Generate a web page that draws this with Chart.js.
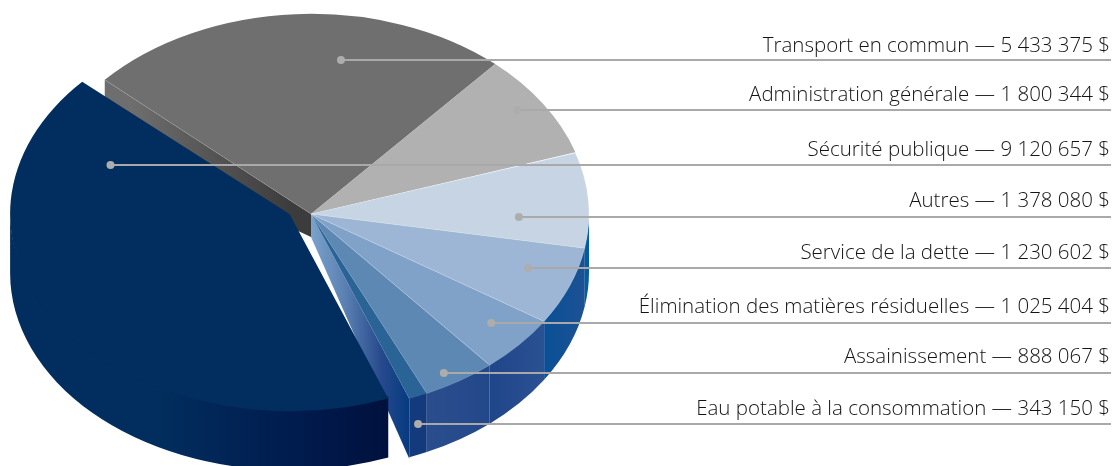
<!DOCTYPE html>
<html lang="fr">
<head>
<meta charset="utf-8">
<title>Répartition des dépenses</title>
<script src="https://cdn.jsdelivr.net/npm/chart.js@4/dist/chart.umd.min.js"></script>
<style>
  html, body { margin: 0; padding: 0; background: #fff; overflow: hidden; }
  canvas { display: block; }
</style>
</head>
<body>
<canvas id="pie" width="1112" height="466"></canvas>
<script>
// Clockwise from the top-left cut. The drawn slices are not to scale with the
// printed amounts, so sweep is read off the picture (degrees) and amounts off the labels.
const categories = ['Transport en commun', 'Administration générale', 'Autres', 'Service de la dette',
  'Élimination des matières résiduelles', 'Assainissement', 'Eau potable à la consommation', 'Sécurité publique'];
const amounts = [5433375, 1800344, 1378080, 1230602, 1025404, 888067, 343150, 9120657];
const sweep = [89.4, 30.5, 28, 23, 17, 15.4, 3.9, 152.8];

const topColors = ['#6f6f6f', '#b1b1b1', '#c6d4e3', '#9db6d5', '#80a2c8', '#5d88b4', '#2a6496', '#012e5e'];
const rimColors = [null, null, ['#005da4', '#005da4'], ['#1c5294', '#0a4f96'], ['#2a5192', '#20468a'],
  ['#23488a', '#2a4d8d'], ['#143a7e', '#143a7e'], null];

// Leader anchors, relative to each slice: along the sweep, along the radius, drop on the rim
const leaderAlong = [0.625, 0.443, 0.685, 0.39, 0.41, 0.58, 0.5, 0.861];
const leaderReach = [0.777, 0.905, 0.748, 0.826, 0.846, 0.926, 1, 0.689];
const leaderDrop = [0, 0, 0, 0, 0, 0, 25, 0];
const labelLift = [8, 9, 10, 9, 10, 10, 9, 9];

const SQUASH = 0.72;
const FRONT_SQUASH = 0.71; // the front right is slightly flatter than the back
const DEPTH = 60;       // rim height
const FRONT_DROP = 58, FRONT_LOWER_SQUASH = 0.712; // lower edge of the front right rim
const TIP_DEPTH = 23;   // cut faces taper towards the centre
const NAVY_SHIFT = -21.5; // exploded slice
const NAVY_SX = 1.005, NAVY_SY = 0.985; // it is drawn a bit wider and flatter than the rest
const NAVY = 7, EAU = 6, TRANSPORT = 0;

const fmt = n => String(n).replace(/\B(?=(\d{3})+$)/g, ' ');
const squashOf = i => (rimColors[i] ? FRONT_SQUASH : SQUASH);

function hGradient(ctx, x0, x1, stops) {
  const g = ctx.createLinearGradient(x0, 0, x1, 0);
  stops.forEach(([at, color]) => g.addColorStop(at, color));
  return g;
}

function rim(ctx, arc, squash, drop, lowerSquash, fill, from, to) {
  const end = Math.min(to, Math.PI); // past the left extreme the wall faces away
  ctx.beginPath();
  // starts 2px under the top face so no seam shows between the two
  ctx.ellipse(arc.x, arc.y - 2, arc.outerRadius, arc.outerRadius * squash, 0, from, end);
  ctx.ellipse(arc.x, arc.y + drop, arc.outerRadius, arc.outerRadius * lowerSquash, 0, end, from, true);
  ctx.closePath();
  ctx.fillStyle = fill;
  ctx.fill();
}

function cutFace(ctx, arc, angle, squash, fill) {
  const ex = arc.x + Math.cos(angle) * arc.outerRadius;
  const ey = arc.y + Math.sin(angle) * arc.outerRadius * squash;
  ctx.beginPath();
  ctx.moveTo(arc.x, arc.y);
  ctx.lineTo(ex, ey);
  ctx.lineTo(ex, ey + DEPTH);
  ctx.lineTo(arc.x, arc.y + TIP_DEPTH);
  ctx.closePath();
  ctx.fillStyle = fill;
  ctx.fill();
  return [ex, ey];
}

function drawTop(ctx, arc, squash) {
  ctx.save();
  ctx.translate(arc.x, arc.y);
  ctx.scale(1, squash);
  ctx.translate(-arc.x, -arc.y);
  arc.draw(ctx);
  ctx.restore();
}

const pie3d = {
  id: 'pie3d',
  // the flat pie is replaced by the extruded one, still from the library's arcs
  beforeDatasetDraw(chart) {
    const ctx = chart.ctx;
    const arcs = chart.getDatasetMeta(0).data;

    arcs.forEach((arc, i) => {
      if (!rimColors[i]) return;
      const from = Math.max(arc.startAngle, 0);
      const xs = [from, arc.endAngle].map(a => arc.x + Math.cos(a) * arc.outerRadius);
      const x0 = Math.min(...xs), x1 = Math.max(...xs);
      rim(ctx, arc, squashOf(i), FRONT_DROP, FRONT_LOWER_SQUASH,
        hGradient(ctx, x0, x1, [[0, rimColors[i][1]], [1, rimColors[i][0]]]), from, arc.endAngle);
    });

    const t = arcs[TRANSPORT];
    const [tx, ty] = cutFace(ctx, t, t.startAngle, SQUASH,
      hGradient(ctx, t.x - 180, t.x - 20, [[0, '#6e6e6e'], [1, '#3c3c3c']]));
    const e = arcs[EAU];
    const ex = e.x + Math.cos(e.endAngle) * e.outerRadius;
    cutFace(ctx, e, e.endAngle, FRONT_SQUASH,
      hGradient(ctx, e.x, ex, [[0, '#7aa2cb'], [0.35, '#5a80b2'], [0.72, '#26498c'], [1, '#063a80']]));

    arcs.forEach((arc, i) => { if (i !== NAVY) drawTop(ctx, arc, squashOf(i)); });

    const n = arcs[NAVY];
    ctx.save();
    ctx.translate(n.x + NAVY_SHIFT, n.y);
    ctx.scale(NAVY_SX, NAVY_SY);
    ctx.translate(-n.x, -n.y);
    rim(ctx, n, SQUASH, DEPTH, SQUASH,
      hGradient(ctx, n.x - 130, n.x + 97, [[0, '#012e5e'], [0.15, '#01295a'], [0.65, '#001a4c'], [1, '#00113e']]),
      n.startAngle, n.endAngle);
    drawTop(ctx, n, SQUASH);
    ctx.restore();

    // hairline along the top of the grey cut
    ctx.beginPath();
    ctx.moveTo(t.x, t.y);
    ctx.lineTo(tx, ty);
    ctx.strokeStyle = 'rgba(255,255,255,0.2)';
    ctx.lineWidth = 0.6;
    ctx.stroke();
    return false;
  },
  afterDatasetsDraw(chart) {
    const ctx = chart.ctx;
    const right = chart.width - 1;
    chart.getDatasetMeta(0).data.forEach((arc, i) => {
      const a = arc.startAngle + (arc.endAngle - arc.startAngle) * leaderAlong[i];
      const r = arc.outerRadius * leaderReach[i];
      const x = arc.x + Math.cos(a) * r + (i === NAVY ? NAVY_SHIFT : 0);
      const y = Math.round(arc.y + Math.sin(a) * r * SQUASH + leaderDrop[i]);

      ctx.strokeStyle = '#a9a9a9';
      ctx.lineWidth = 2.2;
      ctx.beginPath();
      ctx.moveTo(x, y);
      ctx.lineTo(right, y);
      ctx.stroke();

      ctx.fillStyle = '#adadad';
      ctx.beginPath();
      ctx.arc(x, y, 4, 0, Math.PI * 2);
      ctx.fill();

      ctx.fillStyle = '#141414';
      ctx.font = '300 20.5px "Open Sans"';
      ctx.textAlign = 'right';
      ctx.textBaseline = 'alphabetic';
      ctx.fillText(`${categories[i]} — ${fmt(amounts[i])} $`, right - 1, y - labelLift[i]);
    });
  },
};

new Chart(document.getElementById('pie'), {
  type: 'pie',
  data: {
    labels: categories,
    datasets: [{
      data: sweep,
      backgroundColor: topColors,
      borderWidth: [0, 0, 0.5, 0.5, 0.5, 0.5, 0, 0],
      borderColor: 'rgba(255,255,255,0.4)',
    }],
  },
  options: {
    responsive: false,
    animation: false,
    rotation: -47.9,
    radius: 278,
    layout: { padding: { right: 490, bottom: 38 } },
    events: [],
    plugins: { legend: { display: false }, tooltip: { enabled: false } },
  },
  plugins: [pie3d],
});
</script>
</body>
</html>
